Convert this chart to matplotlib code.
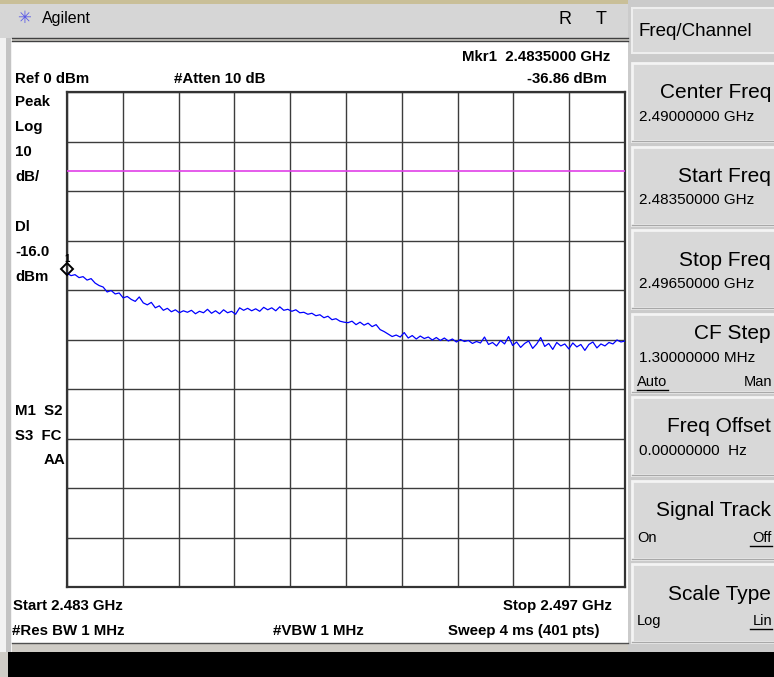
"""
Agilent spectrum analyzer screen: band edge sweep 2.4835 - 2.4965 GHz.
"""
import numpy as np
import matplotlib
matplotlib.use("Agg")
import matplotlib.pyplot as plt
from matplotlib.patches import Rectangle

W, H = 774, 677

# sweep settings
start_ghz = 2.4835
stop_ghz = 2.4965
ref_dbm = 0.0
db_per_div = 10
display_line = -16.0
mkr_ghz = 2.4835
mkr_dbm = -36.86

# trace (dBm), evenly spaced over the sweep
trace_dbm = [
    -36.6, -37.1, -36.9, -37.5, -37.3, -38.0, -37.7, -38.6, -39.1, -39.4,
    -40.4, -40.1, -40.8, -40.6, -41.6, -41.3, -41.9, -42.3, -41.4, -42.6,
    -43.0, -42.5, -43.6, -43.2, -44.1, -43.7, -44.4, -44.0, -44.6, -44.2,
    -44.5, -44.1, -44.8, -44.3, -44.6, -43.9, -44.7, -44.2, -44.8, -44.0,
    -44.6, -44.3, -44.9, -43.6, -44.1, -43.7, -44.2, -43.8, -44.3, -43.5,
    -44.0, -43.6, -44.2, -43.4, -44.1, -43.9, -44.3, -44.0, -44.6, -44.5,
    -44.9, -44.7, -45.2, -45.0, -45.6, -45.3, -46.0, -45.8, -46.3, -46.5,
    -46.6, -46.3, -47.0, -46.5, -47.1, -46.7, -47.4, -47.0, -48.0, -48.4,
    -48.9, -49.4, -49.1, -49.5, -48.6, -49.7, -49.2, -49.9, -49.3, -49.8,
    -49.5, -50.1, -49.6, -50.2, -49.7, -50.3, -49.9, -50.5, -50.0, -50.4,
    -50.2, -50.8, -50.4, -50.7, -49.5, -51.0, -50.6, -51.3, -50.2, -50.9,
    -49.4, -51.2, -50.5, -51.6, -50.8, -50.3, -51.8, -50.9, -49.6, -51.4,
    -50.8, -52.0, -50.6, -51.3, -50.9, -51.9, -50.7, -51.5, -51.0, -52.2,
    -51.0, -50.5, -51.7, -50.9, -51.3, -50.6, -50.9, -50.1, -50.5, -50.3,
]

left_labels = ["Peak", "Log", "10", "dB/", "", "Dl", "-16.0", "dBm"]

softkeys = [
    ("Center Freq", "2.49000000 GHz", None),
    ("Start Freq", "2.48350000 GHz", None),
    ("Stop Freq", "2.49650000 GHz", None),
    ("CF Step", "1.30000000 MHz", ("Auto", "Man", 0)),
    ("Freq Offset", "0.00000000  Hz", None),
    ("Signal Track", "", ("On", "Off", 1)),
    ("Scale Type", "", ("Log", "Lin", 1)),
]

BOLD = ["Liberation Sans", "DejaVu Sans"]
PLAIN = ["Liberation Sans", "DejaVu Sans"]

fig = plt.figure(figsize=(W / 100, H / 100), dpi=100, facecolor="#cfccc6")

# background / chrome, in pixel coordinates
bg = fig.add_axes([0, 0, 1, 1])
bg.set_xlim(0, W)
bg.set_ylim(H, 0)
bg.axis("off")


def rect(x0, y0, x1, y1, **kw):
    bg.add_patch(Rectangle((x0, y0), x1 - x0, y1 - y0, **kw))


rect(0, 0, W, 4, color="#c9bf98", lw=0)
rect(0, 4, 630, 38, color="#d6d6d6", lw=0)
rect(0, 38, 12, 652, color="#f2f2f2", lw=0)
rect(6, 38, 11, 652, color="#c4c4c4", lw=0)
rect(12, 41, 628, 644, color="white", lw=0)
bg.plot([12, 628], [38, 38], color="#404040", lw=1)
bg.plot([12, 628], [41, 41], color="#404040", lw=1)
bg.plot([12, 628], [643, 643], color="#505050", lw=1)
rect(628, 0, W, 652, color="#cbcbcb", lw=0)
rect(8, 652, W, H, color="black", lw=0)

# header
bg.text(24, 18, "\u2733", color="#5a5ae6", fontsize=12, ha="center", va="center",
        family=["DejaVu Sans"])
bg.text(42, 18, "Agilent", fontsize=11.5, va="center", family=PLAIN)
bg.text(565, 20, "R", fontsize=13, va="center", ha="center", family=PLAIN)
bg.text(601, 20, "T", fontsize=13, va="center", ha="center", family=PLAIN)

tkw = dict(fontsize=10.8, fontweight="bold", va="center", family=BOLD)
bg.text(610, 57, "Mkr1  2.4835000 GHz", ha="right", **tkw)
bg.text(607, 79, "-36.86 dBm", ha="right", **tkw)
bg.text(15, 79, "Ref 0 dBm", ha="left", **tkw)
bg.text(174, 79, "#Atten 10 dB", ha="left", **tkw)
for i, lab in enumerate(left_labels):
    bg.text(15, 102 + 25 * i, lab, ha="left", **tkw)
bg.text(15, 411, "M1  S2", ha="left", **tkw)
bg.text(15, 436, "S3  FC", ha="left", **tkw)
bg.text(65, 460, "AA", ha="right", **tkw)
bg.text(13, 606, "Start 2.483 GHz", ha="left", **tkw)
bg.text(612, 606, "Stop 2.497 GHz", ha="right", **tkw)
bg.text(12, 631, "#Res BW 1 MHz", ha="left", **tkw)
bg.text(273, 631, "#VBW 1 MHz", ha="left", **tkw)
bg.text(600, 631, "Sweep 4 ms (401 pts)", ha="right", **tkw)

# softkey panel
rect(632, 8, W + 2, 53, facecolor="#d8d8d8", edgecolor="#eeeeee", lw=1.5)
bg.text(638, 32, "Freq/Channel", fontsize=13.5, va="center", family=PLAIN)
for k, (title, value, opts) in enumerate(softkeys):
    y0 = 63 + 83.5 * k
    rect(632, y0, W + 2, y0 + 78, facecolor="#d8d8d8", edgecolor="#f4f4f4", lw=2)
    bg.plot([632, W], [y0 + 78, y0 + 78], color="#a8a8a8", lw=1)
    if value and opts:
        ty, vy, oy = y0 + 20, y0 + 45, y0 + 68
    else:
        ty, vy, oy = y0 + 30, y0 + 54, y0 + 57
    bg.text(771, ty, title, fontsize=15, ha="right", va="center", family=PLAIN)
    if value:
        bg.text(639, vy, value, fontsize=11, ha="left", va="center", family=PLAIN)
    if opts:
        lo, hi, uline = opts
        bg.text(637, oy, lo, fontsize=10.5, ha="left", va="center", family=PLAIN)
        bg.text(772, oy, hi, fontsize=10.5, ha="right", va="center", family=PLAIN)
        ux = (637, 668) if uline == 0 else (750, 772)
        bg.plot(ux, [oy + 8, oy + 8], color="black", lw=1)

# trace area
ax = fig.add_axes([67 / W, 1 - 587 / H, (625 - 67) / W, (587 - 92) / H])
ax.set_facecolor("white")
ax.set_xlim(start_ghz, stop_ghz)
ax.set_ylim(ref_dbm - 10 * db_per_div, ref_dbm)
ax.set_xticks(np.linspace(start_ghz, stop_ghz, 11))
ax.set_yticks(np.arange(ref_dbm - 10 * db_per_div, ref_dbm + 1, db_per_div))
ax.grid(True, color="#3c3c3c", lw=1.0)
ax.tick_params(length=0, labelbottom=False, labelleft=False)
for s in ax.spines.values():
    s.set_color("#333333")
    s.set_linewidth(1.6)

freq = np.linspace(start_ghz, stop_ghz, len(trace_dbm))
ax.plot(freq, trace_dbm, color="#0000ff", lw=0.9, zorder=3)
ax.axhline(display_line, color="#e040e8", lw=1.2, zorder=3)
ax.plot([mkr_ghz], [mkr_dbm + 1.2], marker="D", ms=6, mfc="none", mec="black",
        mew=1.4, clip_on=False, zorder=4)
ax.text(mkr_ghz, mkr_dbm + 3.2, "1", fontsize=7, ha="center", va="center",
        fontweight="bold", family=BOLD, clip_on=False)

fig.savefig("out.png", dpi=100, facecolor=fig.get_facecolor())
